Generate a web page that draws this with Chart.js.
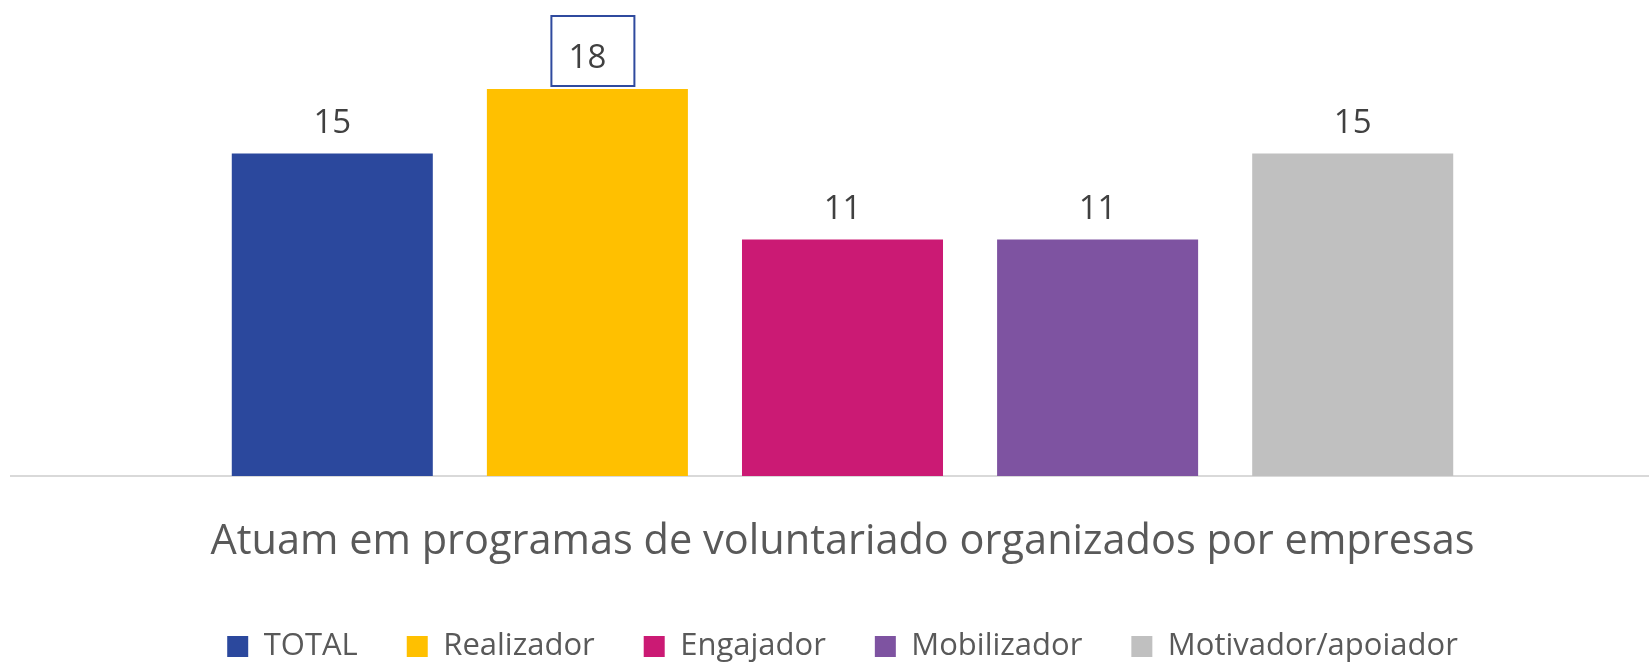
<!DOCTYPE html>
<html>
<head>
<meta charset="utf-8">
<title>Voluntariado em empresas</title>
<script src="https://cdn.jsdelivr.net/npm/chart.js@4.4.1/dist/chart.umd.min.js"></script>
<style>
  html, body { margin: 0; padding: 0; background: #fff; overflow: hidden; }
  #wrap { width: 1649px; height: 664px; overflow: hidden; }
</style>
</head>
<body>
<div id="wrap"><canvas id="chart-voluntariado" width="1685" height="672"></canvas></div>
<script>
const categories = ["Atuam em programas de voluntariado organizados por empresas"];
const seriesNames = ["TOTAL", "Realizador", "Engajador", "Mobilizador", "Motivador/apoiador"];
const seriesValues = [15, 18, 11, 11, 15];
const seriesColors = ["#2B489D", "#FFC000", "#CB1A74", "#7E53A1", "#C0C0C0"];
const framedSeries = 1; // this label gets a thin frame

// value labels above the bars
const barLabels = {
  id: 'barLabels',
  afterDatasetsDraw(chart) {
    const ctx = chart.ctx;
    ctx.save();
    ctx.font = '33px "Open Sans"';
    ctx.fillStyle = '#404040';
    ctx.textAlign = 'center';
    ctx.textBaseline = 'alphabetic';
    chart.data.datasets.forEach((ds, i) => {
      const bar = chart.getDatasetMeta(i).data[0];
      const baseline = bar.y - 21;
      ctx.fillText(String(ds.data[0]), bar.x, baseline);
      if (i === framedSeries) {
        ctx.strokeStyle = '#2F4A9E';
        ctx.lineWidth = 2;
        ctx.strokeRect(bar.x - 36, baseline - 52, 83, 70);
      }
    });
    ctx.restore();
  }
};

function draw() {
  const datasets = seriesNames.map((name, i) => ({
    label: name,
    data: [seriesValues[i]],
    backgroundColor: seriesColors[i],
    borderWidth: 0,
    categoryPercentage: 0.767,
    barPercentage: 0.788
  }));

  new Chart(document.getElementById('chart-voluntariado'), {
    type: 'bar',
    data: { labels: categories, datasets: datasets },
    options: {
      responsive: false,
      animation: false,
      devicePixelRatio: 1,
      layout: { padding: { top: 46, left: 11, right: 11, bottom: 0 } },
      scales: {
        x: {
          grid: { display: false, drawTicks: false },
          border: { display: true, color: '#D9D9D9', width: 2 },
          ticks: {
            color: '#595959',
            padding: 25,
            maxRotation: 0,
            font: { family: 'Open Sans', size: 41.5, lineHeight: '83px' }
          },
          // padding counts twice in fit(); keep the band under the axis tighter
          afterFit(scale) {
            scale.height = 106;
          }
        },
        y: { display: false, min: 0, max: 20 }
      },
      plugins: {
        legend: {
          position: 'bottom',
          labels: {
            boxWidth: 21,
            boxHeight: 21,
            padding: 49,
            color: '#595959',
            font: { family: 'Open Sans', size: 31 }
          }
        },
        tooltip: { enabled: false }
      }
    },
    plugins: [barLabels]
  });
}

document.fonts.load('33px "Open Sans"').then(draw, draw);
</script>
</body>
</html>
